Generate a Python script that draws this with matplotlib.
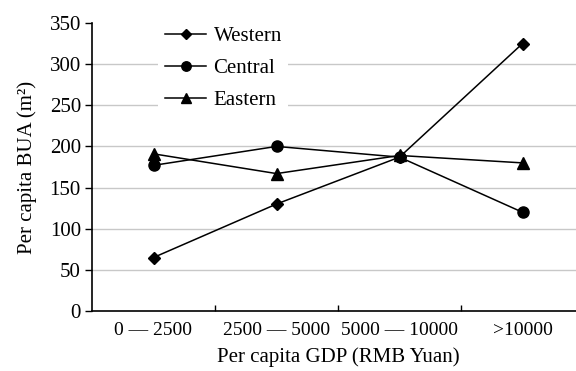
import matplotlib
matplotlib.use("Agg")
import matplotlib.pyplot as plt
import numpy as np

categories = ["0 \u2014 2500", "2500 \u2014 5000", "5000 \u2014 10000", ">10000"]
western = [65, 130, 187, 325]
central = [177, 200, 187, 120]
eastern = [191, 167, 189, 180]
yticks = [0, 50, 100, 150, 200, 250, 300, 350]

plt.rcParams['font.family'] = ['Liberation Serif', 'DejaVu Serif']
plt.rcParams['font.size'] = 15

fig = plt.figure(figsize=(5.76, 3.71), dpi=100)
ax = fig.add_axes([92/576, 1-311/371, 492/576, (311-23)/371])

x = np.arange(len(categories))
ax.plot(x, western, color='black', lw=1.1, marker='D', ms=6.5, label='Western', zorder=3)
ax.plot(x, central, color='black', lw=1.1, marker='o', ms=8, label='Central', zorder=3)
ax.plot(x, eastern, color='black', lw=1.1, marker='^', ms=8, label='Eastern', zorder=3)

ax.set_xlim(-0.5, len(categories) - 0.5)
ax.set_ylim(0, 350)
ax.set_yticks(yticks)
ax.set_xticks(x)
ax.set_xticklabels(categories, fontsize=14)
ax.set_xticks(x[:-1] + 0.5, minor=True)
ax.tick_params(axis='x', which='major', length=0, pad=8)
ax.tick_params(axis='x', which='minor', direction='in', length=4, width=1)
ax.tick_params(axis='y', direction='out', length=5, width=1, pad=3, labelsize=15)

for v in yticks[1:-1]:
    ax.axhline(v, color='#c8c8c8', lw=1, zorder=1)

for s in ['top', 'right']:
    ax.spines[s].set_visible(False)
ax.spines['left'].set_linewidth(1.2)
ax.spines['bottom'].set_linewidth(1.2)

ax.set_xlabel("Per capita GDP (RMB Yuan)", fontsize=15, labelpad=6)
ax.set_ylabel("Per capita BUA (m\u00b2)", fontsize=15, labelpad=9)

leg = fig.legend(loc='upper left', bbox_to_anchor=(148/576, 1-10/371),
                 frameon=True, handlelength=2.0, labelspacing=0.6,
                 handletextpad=0.35, borderpad=0.3, markerscale=0.85)
leg.get_frame().set_edgecolor('none')
leg.get_frame().set_facecolor('white')
leg.get_frame().set_alpha(1)

fig.savefig("out.png", dpi=100)
